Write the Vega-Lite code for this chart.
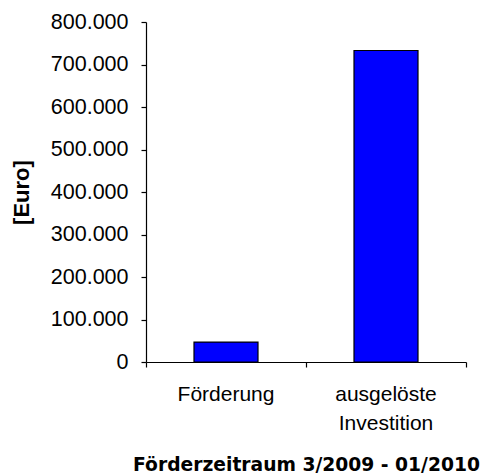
{
  "$schema": "https://vega.github.io/schema/vega-lite/v6.json",
  "autosize": "none",
  "width": 320,
  "height": 340,
  "padding": {"left": 146, "top": 22, "right": 16, "bottom": 113},
  "background": "white",
  "data": {
    "values": [
      {"kategorie": "Förderung", "wert": 47000},
      {"kategorie": "ausgelöste Investition", "wert": 733000}
    ]
  },
  "mark": {"type": "bar", "color": "#0000FF", "stroke": "#000000", "strokeWidth": 1.2, "width": {"band": 0.4}},
  "encoding": {
    "x": {
      "field": "kategorie",
      "type": "nominal",
      "sort": null,
      "scale": {"paddingInner": 0, "paddingOuter": 0},
      "axis": {
        "title": "Förderzeitraum 3/2009 - 01/2010",
        "titleFont": "DejaVu Sans",
        "titleFontWeight": "bold",
        "titleFontSize": 18.7,
        "titleColor": "#000000",
        "titlePadding": 22,
        "labelAngle": 0,
        "labelFont": "Liberation Sans",
        "labelFontSize": 21,
        "labelColor": "#000000",
        "labelLineHeight": 29,
        "labelPadding": 16,
        "labelExpr": "split(datum.label, ' ')",
        "ticks": true,
        "bandPosition": 1,
        "tickExtra": true,
        "tickSize": 5,
        "tickWidth": 1.2,
        "tickColor": "#000000",
        "tickOpacity": 1,
        "domainColor": "#000000",
        "domainWidth": 1.2
      }
    },
    "y": {
      "field": "wert",
      "type": "quantitative",
      "scale": {"domain": [0, 800000]},
      "axis": {
        "title": "[Euro]",
        "titleFont": "Liberation Sans",
        "titleFontWeight": "bold",
        "titleFontSize": 22,
        "titleColor": "#000000",
        "titlePadding": 17,
        "values": [0, 100000, 200000, 300000, 400000, 500000, 600000, 700000, 800000],
        "labelExpr": "replace(format(datum.value, ','), ',', '.')",
        "labelFont": "Liberation Sans",
        "labelFontSize": 21.5,
        "labelColor": "#000000",
        "labelPadding": 13,
        "tickSize": 5,
        "tickWidth": 1.2,
        "tickColor": "#000000",
        "domainColor": "#000000",
        "domainWidth": 1.2,
        "grid": false
      }
    }
  },
  "config": {"view": {"stroke": null}}
}
